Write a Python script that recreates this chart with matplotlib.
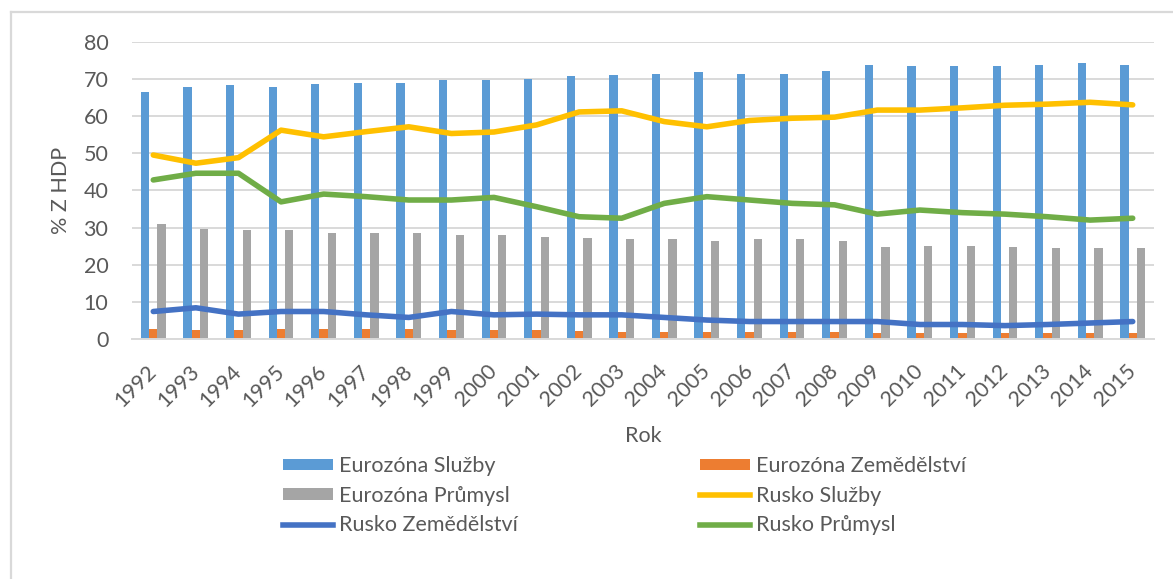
import matplotlib
matplotlib.use("Agg")
import matplotlib.pyplot as plt
from matplotlib.lines import Line2D
from matplotlib.patches import Patch
import numpy as np

years = [str(y) for y in range(1992, 2016)]
ez_sluzby = [66.5, 67.9, 68.3, 67.9, 68.6, 69.0, 69.0, 69.7, 69.7, 70.0, 70.7, 71.0,
             71.4, 71.8, 71.4, 71.4, 72.0, 73.8, 73.5, 73.5, 73.5, 73.8, 74.2, 73.8]
ez_zemed = [2.7, 2.3, 2.3, 2.7, 2.7, 2.7, 2.6, 2.3, 2.3, 2.3, 2.2, 2.0,
            2.0, 2.0, 1.8, 1.8, 1.8, 1.7, 1.7, 1.7, 1.7, 1.7, 1.7, 1.7]
ez_prumysl = [31.0, 29.6, 29.2, 29.2, 28.6, 28.6, 28.6, 27.9, 27.9, 27.5, 27.2, 26.8,
              26.8, 26.5, 26.8, 26.8, 26.5, 24.8, 25.1, 25.1, 24.8, 24.4, 24.4, 24.4]
ru_sluzby = [49.5, 47.3, 48.8, 56.2, 54.4, 55.8, 57.1, 55.3, 55.7, 57.6, 61.1, 61.4,
             58.5, 57.1, 58.8, 59.4, 59.7, 61.6, 61.6, 62.2, 62.9, 63.2, 63.7, 63.0]
ru_zemed = [7.4, 8.4, 6.7, 7.4, 7.4, 6.5, 5.8, 7.4, 6.5, 6.7, 6.5, 6.5,
            5.8, 5.1, 4.7, 4.7, 4.7, 4.7, 3.9, 3.9, 3.6, 3.9, 4.3, 4.7]
ru_prumysl = [42.8, 44.6, 44.6, 36.9, 39.0, 38.3, 37.4, 37.4, 38.1, 35.6, 32.9, 32.5,
              36.5, 38.3, 37.4, 36.5, 36.1, 33.6, 34.7, 34.0, 33.6, 32.9, 32.0, 32.5]
y_ticks = [0, 10, 20, 30, 40, 50, 60, 70, 80]

labels = ["Eurozóna Služby", "Eurozóna Zemědělství", "Eurozóna Průmysl",
          "Rusko Služby", "Rusko Zemědělství", "Rusko Průmysl"]
colors = ["#5B9BD5", "#ED7D31", "#A5A5A5", "#FFC000", "#4472C4", "#70AD47"]

plt.rcParams['font.family'] = ['Lato', 'DejaVu Sans']
txt = "#595959"
grid = "#D9D9D9"
fs = 15.5

fig = plt.figure(figsize=(11.73, 5.79), dpi=100)
ax = fig.add_axes([132/1173, 1 - 339/579, (1154-132)/1173, (339-41.7)/579])

x = np.arange(len(years))
w = 0.195
ax.bar(x - w, ez_sluzby, w, color=colors[0], zorder=2)
ax.bar(x, ez_zemed, w, color=colors[1], zorder=2)
ax.bar(x + w, ez_prumysl, w, color=colors[2], zorder=2)
lw = 4
ax.plot(x, ru_sluzby, color=colors[3], lw=lw, zorder=3, solid_capstyle='round')
ax.plot(x, ru_zemed, color=colors[4], lw=lw, zorder=3, solid_capstyle='round')
ax.plot(x, ru_prumysl, color=colors[5], lw=lw, zorder=3, solid_capstyle='round')

ax.set_xlim(-0.5, len(years) - 0.5)
ax.set_ylim(0, 80)
ax.set_yticks(y_ticks)
ax.yaxis.grid(True, color=grid, lw=1.4, zorder=0)
ax.set_axisbelow(True)
for s in ["top", "right", "left"]:
    ax.spines[s].set_visible(False)
ax.spines["bottom"].set_color(grid)
ax.spines["bottom"].set_linewidth(1.4)
ax.tick_params(axis='both', length=0, labelsize=fs, labelcolor=txt)
ax.tick_params(axis='y', pad=17)
ax.set_xticks(x)
ax.set_xticklabels(years, rotation=45, ha='right', va='center', rotation_mode='anchor')
ax.tick_params(axis='x', pad=21)
ax.set_ylabel("% Z HDP", fontsize=fs, color=txt, labelpad=9)
ax.set_xlabel("Rok", fontsize=fs, color=txt, labelpad=11)

h_bar = lambda c: Patch(facecolor=c, edgecolor='none')
h_line = lambda c: Line2D([0], [0], color=c, lw=lw)
left_h = [h_bar(colors[0]), h_bar(colors[2]), h_line(colors[4])]
left_l = [labels[0], labels[2], labels[4]]
right_h = [h_bar(colors[1]), h_line(colors[3]), h_line(colors[5])]
right_l = [labels[1], labels[3], labels[5]]
common = dict(frameon=False, fontsize=fs, labelcolor=txt, handlelength=2.33,
              handleheight=0.45, handletextpad=0.28, labelspacing=0.45,
              borderaxespad=0, borderpad=0)
leg1 = fig.legend(left_h, left_l, loc='upper left',
                  bbox_to_anchor=(283/1173, 1 - 456/579), **common)
leg2 = fig.legend(right_h, right_l, loc='upper left',
                  bbox_to_anchor=(700/1173, 1 - 456/579), **common)

# chart area border (left and top edges)
fig.add_artist(Line2D([11/1173, 11/1173], [0, 1 - 12/579], color=grid, lw=1.6,
                      transform=fig.transFigure))
fig.add_artist(Line2D([11/1173, 1], [1 - 12/579, 1 - 12/579], color=grid, lw=1.6,
                      transform=fig.transFigure))

fig.savefig("out.png", dpi=100)
